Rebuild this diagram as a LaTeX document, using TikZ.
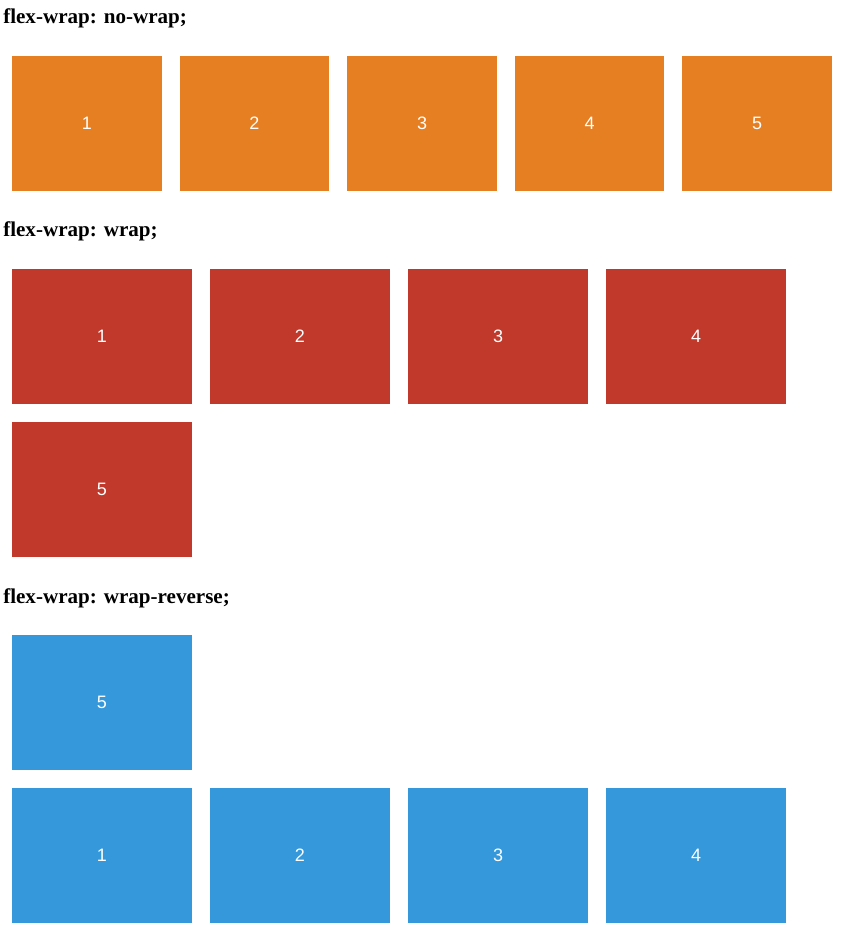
\documentclass[tikz,border=0pt]{standalone}
\usepackage{fontspec}
\setmainfont{Liberation Serif}
\newfontfamily\itemfont{Liberation Sans}
\definecolor{FlexOrange}{HTML}{E67E22}
\definecolor{FlexRed}{HTML}{C0392B}
\definecolor{FlexBlue}{HTML}{3498DB}
\definecolor{FlexWhite}{HTML}{ffffff}
\definecolor{FlexBlack}{HTML}{000000}
\usetikzlibrary{positioning}
\tikzset{
    % Flex item boxes, no border
    flex item/.style={
        rectangle,
        draw=none,
        text=FlexWhite,
        inner sep=0pt,
        minimum height=101pt,
        align=center,
        font=\itemfont\fontsize{13.5pt}{16pt}\selectfont
    },
    flex item orange/.style={
        flex item,
        fill=FlexOrange,
        minimum width=112.2pt
    },
    flex item red/.style={
        flex item,
        fill=FlexRed,
        minimum width=135pt
    },
    flex item blue/.style={
        flex item,
        fill=FlexBlue,
        minimum width=135pt
    },
    % Section headings
    heading/.style={
        anchor=base west,
        inner sep=0pt,
        text=FlexBlack,
        font=\bfseries\fontsize{15.8pt}{18pt}\selectfont
    }
}

\begin{document}
\begin{tikzpicture}[x=0.75pt, y=-0.75pt]
        \useasboundingbox[fill=FlexWhite] (0, 0) rectangle (841, 934);

        % No wrap row
        \node[heading] (nowraphead) at (3, 24) {flex-wrap: no-wrap;};
        \node[flex item orange] (nowrap1) at (86.8, 123.5) {1};
        \node[flex item orange] (nowrap2) at (254.4, 123.5) {2};
        \node[flex item orange] (nowrap3) at (422, 123.5) {3};
        \node[flex item orange] (nowrap4) at (589.6, 123.5) {4};
        \node[flex item orange] (nowrap5) at (757.2, 123.5) {5};

        % Wrap rows
        \node[heading] (wraphead) at (3, 237) {flex-wrap: wrap;};
        \node[flex item red] (wrap1) at (102, 336.5) {1};
        \node[flex item red] (wrap2) at (300, 336.5) {2};
        \node[flex item red] (wrap3) at (498, 336.5) {3};
        \node[flex item red] (wrap4) at (696, 336.5) {4};
        \node[flex item red] (wrap5) at (102, 489.5) {5};

        % Wrap reverse rows
        \node[heading] (reversehead) at (3, 603) {flex-wrap: wrap-reverse;};
        \node[flex item blue] (reverse5) at (102, 702.5) {5};
        \node[flex item blue] (reverse1) at (102, 855.5) {1};
        \node[flex item blue] (reverse2) at (300, 855.5) {2};
        \node[flex item blue] (reverse3) at (498, 855.5) {3};
        \node[flex item blue] (reverse4) at (696, 855.5) {4};
    \end{tikzpicture}
\end{document}
